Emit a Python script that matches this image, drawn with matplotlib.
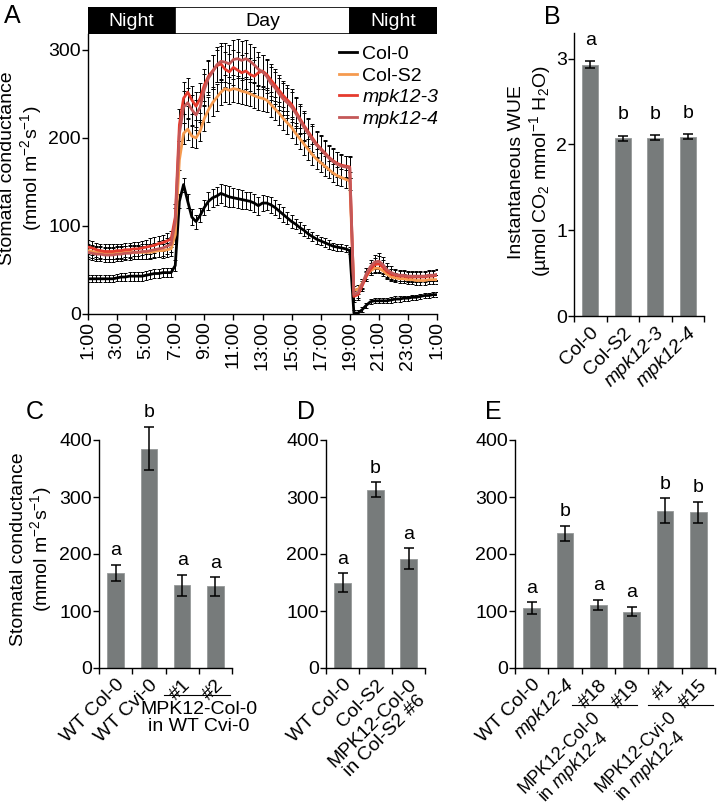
import numpy as np
import matplotlib
matplotlib.use('Agg')
import matplotlib.pyplot as plt
from matplotlib.patches import Rectangle
from matplotlib.textpath import TextToPath
from matplotlib.font_manager import FontProperties
import matplotlib.transforms as mtransforms

plt.rcParams['font.family'] = ['Liberation Sans', 'DejaVu Sans']
plt.rcParams['mathtext.fontset'] = 'custom'
plt.rcParams['mathtext.rm'] = 'Liberation Sans'
plt.rcParams['mathtext.it'] = 'Liberation Sans:italic'
plt.rcParams['font.size'] = 14
plt.rcParams['axes.linewidth'] = 1.0

# ---- panel A: diurnal stomatal conductance (85 samples, 1:00 -> 1:00) ----
hours = np.linspace(0, 24, 85)
hour_ticks = [0, 2, 4, 6, 8, 10, 12, 14, 16, 18, 20, 22, 24]
hour_labels = ['1:00', '3:00', '5:00', '7:00', '9:00', '11:00', '13:00',
               '15:00', '17:00', '19:00', '21:00', '23:00', '1:00']
phase_names = ['Night', 'Day', 'Night']
phase_start = [0, 6, 18]
phase_end = [6, 18, 24]

col0 = [40, 40, 40, 40, 40, 40, 40, 41, 42, 42, 43, 43, 43, 43, 44, 45, 46, 46, 47, 47, 47,
        55, 128, 147, 128, 110, 105, 112, 121, 128, 132, 134, 137, 135, 133, 132, 131, 130,
        129, 128, 126, 123, 126, 126, 124, 121, 117, 113, 109, 105, 102, 98, 95, 91, 88, 85,
        83, 81, 79, 77, 76, 75, 74, 72,
        1, 1, 5, 10, 14, 15, 15, 15, 15, 16, 17, 17, 18, 18, 19, 19, 20, 21, 21, 22, 22]
col0_err = [4, 4, 4, 4, 4, 4, 4, 4, 4, 4, 5, 5, 5, 5, 5, 5, 5, 5, 5, 5, 5,
            6, 8, 8, 8, 9, 8, 8, 9, 10, 10, 10, 11, 12, 12, 11, 11, 11, 10, 10, 10, 10, 9,
            8, 9, 9, 8, 8, 7, 7, 6, 6, 6, 5, 5, 5, 5, 5, 5, 4, 4, 4, 4, 4,
            3, 3, 3, 3, 3, 3, 3, 3, 3, 3, 3, 3, 3, 3, 3, 3, 3, 3, 3, 3, 3]
cols2 = [72, 71, 70, 70, 69, 69, 69, 70, 70, 70, 71, 70, 70, 70, 70, 70, 71, 72, 72, 73, 74,
         90, 175, 205, 210, 202, 200, 208, 222, 232, 240, 246, 252, 256, 254, 256, 255, 253,
         252, 250, 248, 246, 245, 243, 238, 233, 228, 222, 217, 212, 205, 199, 193, 187, 181,
         176, 172, 168, 164, 160, 157, 155, 153, 151,
         27, 28, 35, 43, 49, 52, 52, 49, 45, 42, 41, 40, 40, 39, 39, 38, 38, 38, 39, 39, 39]
cols2_err = [7, 7, 7, 7, 7, 7, 7, 7, 7, 7, 7, 7, 7, 7, 7, 7, 7, 7, 8, 8, 8,
             10, 12, 12, 12, 12, 12, 12, 14, 14, 15, 15, 15, 15, 15, 15, 15, 15, 15, 14, 14,
             14, 14, 14, 14, 13, 13, 13, 13, 12, 12, 12, 12, 12, 12, 11, 11, 11, 10, 10, 10,
             10, 10, 10,
             5, 5, 5, 5, 5, 6, 6, 6, 5, 5, 5, 5, 5, 5, 5, 5, 5, 5, 5, 5, 5]
mpk3 = [76, 75, 73, 72, 71, 71, 71, 72, 72, 73, 73, 74, 74, 75, 76, 77, 78, 80, 81, 83, 85,
        110, 215, 245, 252, 243, 236, 245, 260, 270, 276, 282, 284, 278, 275, 280, 277, 274,
        276, 272, 270, 274, 276, 272, 266, 260, 254, 248, 243, 238, 230, 222, 214, 207, 200,
        193, 188, 183, 178, 174, 171, 169, 168, 167,
        20, 22, 32, 43, 51, 56, 57, 53, 48, 45, 44, 43, 43, 42, 42, 42, 42, 42, 43, 43, 44]
mpk3_err = [8, 8, 8, 8, 8, 8, 8, 8, 8, 8, 8, 8, 8, 8, 8, 9, 9, 9, 9, 9, 9,
            15, 18, 18, 16, 16, 16, 17, 18, 18, 18, 18, 20, 20, 20, 20, 20, 20, 20, 19, 19,
            18, 18, 18, 18, 18, 18, 17, 17, 17, 16, 16, 16, 16, 16, 15, 15, 15, 14, 14, 13,
            13, 12, 12,
            6, 6, 6, 6, 7, 8, 9, 8, 7, 6, 6, 6, 6, 6, 6, 6, 6, 6, 6, 6, 6]
mpk4 = [70, 69, 68, 68, 67, 67, 67, 68, 68, 69, 69, 70, 70, 71, 71, 72, 73, 74, 75, 77, 79,
        105, 205, 235, 240, 232, 226, 235, 255, 268, 275, 283, 287, 286, 284, 289, 290, 288,
        290, 287, 283, 278, 275, 270, 262, 257, 250, 244, 240, 235, 228, 220, 212, 205, 198,
        192, 187, 182, 177, 173, 170, 168, 167, 166,
        22, 24, 34, 46, 54, 59, 60, 56, 50, 47, 45, 44, 44, 43, 43, 43, 43, 43, 44, 44, 45]
mpk4_err = [8, 8, 8, 8, 8, 8, 8, 8, 8, 8, 8, 8, 8, 8, 8, 8, 8, 9, 9, 9, 9,
            15, 18, 18, 17, 17, 17, 17, 18, 19, 19, 20, 21, 22, 22, 22, 22, 22, 21, 20, 20,
            19, 19, 19, 19, 18, 18, 18, 17, 17, 17, 16, 16, 16, 16, 15, 15, 15, 14, 14, 14,
            13, 13, 12,
            6, 6, 6, 6, 7, 8, 9, 9, 8, 7, 6, 6, 6, 6, 6, 6, 6, 6, 6, 6, 6]

# ---- panel B: WUE ----
wue_labels = ['Col-0', 'Col-S2', 'mpk12-3', 'mpk12-4']
wue_italic = [False, False, True, True]
wue = [2.93, 2.07, 2.08, 2.09]
wue_err = [0.04, 0.03, 0.03, 0.03]
wue_letters = ['a', 'b', 'b', 'b']

# ---- panels C, D, E: stomatal conductance ----
c_labels = ['WT Col-0', 'WT Cvi-0', '#1', '#2']
c_vals = [167, 385, 145, 143]
c_err = [14, 38, 19, 16]
c_letters = ['a', 'b', 'a', 'a']

d_labels = ['WT Col-0', 'Col-S2', 'MPK12-Col-0\nin Col-S2 #6']
d_vals = [150, 313, 192]
d_err = [16, 13, 18]
d_letters = ['a', 'b', 'a']

e_labels = ['WT Col-0', 'mpk12-4', '#18', '#19', '#1', '#15']
e_italic = [False, True, False, False, False, False]
e_vals = [105, 236, 111, 99, 276, 273]
e_err = [10, 14, 9, 8, 22, 19]
e_letters = ['a', 'b', 'a', 'a', 'b', 'b']
e_groups = [('MPK12-Col-0', 'in $\\mathit{mpk12}$-$\\mathit{4}$', 1.2, 3.15),
            ('MPK12-Cvi-0', 'in $\\mathit{mpk12}$-$\\mathit{4}$', 3.5, 5.45)]

bar_color = '#777b7b'
W, H = 717, 809
fig = plt.figure(figsize=(W / 100, H / 100), dpi=100)


def px_axes(left, top, right, bottom):
    return fig.add_axes([left / W, 1 - bottom / H, (right - left) / W, (bottom - top) / H])


def style(ax):
    ax.spines['top'].set_visible(False)
    ax.spines['right'].set_visible(False)
    ax.tick_params(direction='out', length=4, width=1, colors='black', pad=1)


def bar_panel(ax, labels, vals, err, letters, ymax, letter_pad, italic=None):
    x = np.arange(len(vals))
    ax.bar(x, vals, width=0.5, color=bar_color, edgecolor='#959999', linewidth=0.6, zorder=2)
    ax.errorbar(x, vals, yerr=err, fmt='none', ecolor='black', elinewidth=1.1,
                capsize=3.5, capthick=1.1, zorder=3, clip_on=False)
    for i in x:
        ax.annotate(letters[i], (i, vals[i] + err[i]), xytext=(0, letter_pad),
                    textcoords='offset points', ha='center', va='bottom',
                    annotation_clip=False)
    ax.set_xlim(-0.5, len(vals) - 0.5)
    ax.set_ylim(0, ymax)
    style(ax)
    ax.set_xticks(x)
    ax.set_xticklabels(labels, rotation=45, ha='right', rotation_mode='anchor',
                       multialignment='center')
    ax.tick_params(axis='x', which='major', length=0, pad=6)
    ax.set_xticks(np.arange(-0.5, len(vals), 1), minor=True)
    ax.tick_params(axis='x', which='minor', length=4, width=1, direction='out')
    if italic is not None:
        for lab, it in zip(ax.get_xticklabels(), italic):
            if it:
                lab.set_style('italic')


# ---- A ----
axA = px_axes(88, 34, 437, 314)
series = [('Col-0', col0, col0_err, 'black'),
          ('Col-S2', cols2, cols2_err, '#f59a4f'),
          ('mpk12-3', mpk3, mpk3_err, '#e63b2e'),
          ('mpk12-4', mpk4, mpk4_err, '#c45858')]
handles = []
for name, vals, err, color in series:
    axA.errorbar(hours, vals, yerr=err, fmt='none', ecolor='black', elinewidth=0.7,
                 capsize=1.4, capthick=0.7, zorder=2)
for name, vals, err, color in series:
    ln, = axA.plot(hours, vals, color=color, lw=2.0, zorder=3, label=name)
    handles.append(ln)
axA.set_xlim(0, 24)
axA.set_ylim(0, 318)
axA.set_yticks([0, 100, 200, 300])
axA.set_xticks(hour_ticks)
axA.set_xticklabels(hour_labels, rotation=90)
style(axA)
axA.set_ylabel('Stomatal conductance\n(mmol m$^{-2}$s$^{-1}$)', linespacing=1.1)
axA.yaxis.set_label_coords(-0.127, 0.52)
leg = axA.legend(handles=handles, loc='upper right', bbox_to_anchor=(1.037, 1.0),
                 frameon=False, handlelength=0.95, handletextpad=0.25, labelspacing=0.2,
                 borderaxespad=0.2)
for t in leg.get_texts()[2:]:
    t.set_style('italic')

axBar = px_axes(88, 7, 437, 34)
for name, s, e in zip(phase_names, phase_start, phase_end):
    dark = name == 'Night'
    axBar.add_patch(Rectangle((s, 0), e - s, 1, facecolor='black' if dark else 'white',
                              edgecolor='black', linewidth=1.2))
    axBar.text((s + e) / 2, 0.45, name, ha='center', va='center',
               color='white' if dark else 'black')
axBar.set_xlim(0, 24)
axBar.set_ylim(0, 1)
axBar.axis('off')

# ---- B ----
axB = px_axes(574, 33, 704, 316)
bar_panel(axB, wue_labels, wue, wue_err, wue_letters, 3.3, 9, italic=wue_italic)
axB.set_yticks([0, 1, 2, 3])
axB.set_ylabel('Instantaneous WUE\n(µmol CO$_2$ mmol$^{-1}$ H$_2$O)', linespacing=1.1)
axB.yaxis.set_label_coords(-0.16, 0.51)

# ---- C ----
axC = px_axes(99, 440, 232, 668)
bar_panel(axC, c_labels, c_vals, c_err, c_letters, 400, 4)
axC.set_yticks([0, 100, 200, 300, 400])
axC.set_ylabel('Stomatal conductance\n(mmol m$^{-2}$s$^{-1}$)', linespacing=1.1)
axC.yaxis.set_label_coords(-0.335, 0.52)
trC = mtransforms.blended_transform_factory(axC.transData, axC.transAxes)
axC.plot([1.45, 3.45], [-0.12, -0.12], color='black', lw=0.8, transform=trC, clip_on=False)
axC.text(2.5, -0.145, 'MPK12-Col-0\nin WT Cvi-0', transform=trC, ha='center', va='top',
         multialignment='center', linespacing=1.0)

# ---- D ----
axD = px_axes(326, 440, 425, 668)
bar_panel(axD, d_labels, d_vals, d_err, d_letters, 400, 4)
axD.set_yticks([0, 100, 200, 300, 400])
for lab in axD.get_xticklabels():
    lab.set_linespacing(1.0)

# ---- E ----
axE = px_axes(515, 440, 715, 668)
bar_panel(axE, e_labels, e_vals, e_err, e_letters, 400, 4, italic=e_italic)
axE.set_yticks([0, 100, 200, 300, 400])
trE = mtransforms.blended_transform_factory(axE.transData, axE.transAxes)
grp_size = 13
fp = FontProperties(family='Liberation Sans', size=grp_size)
c45 = np.cos(np.pi / 4)
line_h = 13.5
for line1, line2, x0, x1 in e_groups:
    axE.plot([x0, x1], [-0.163, -0.163], color='black', lw=0.8, transform=trE,
             clip_on=False)
    xc = x0 + 0.6
    w1 = TextToPath().get_text_width_height_descent(line1, fp, ismath=False)[0]
    axE.annotate(line1, (xc, -0.177), xycoords=trE, xytext=(0, 0),
                 textcoords='offset points', ha='right', va='top', rotation=45,
                 rotation_mode='anchor', annotation_clip=False, fontsize=grp_size)
    dx = -w1 / 2 * c45 + line_h * c45
    dy = -w1 / 2 * c45 - line_h * c45
    axE.annotate(line2, (xc, -0.177), xycoords=trE, xytext=(dx, dy),
                 textcoords='offset points', ha='center', va='top', rotation=45,
                 rotation_mode='anchor', annotation_clip=False, fontsize=grp_size)

# panel letters
for letter, x, y in [('A', 4, 4), ('B', 544, 5), ('C', 26, 400), ('D', 297, 400),
                     ('E', 485, 400)]:
    fig.text(x / W, 1 - y / H, letter, fontsize=18, ha='left', va='top')

fig.savefig('out.png', dpi=100)
